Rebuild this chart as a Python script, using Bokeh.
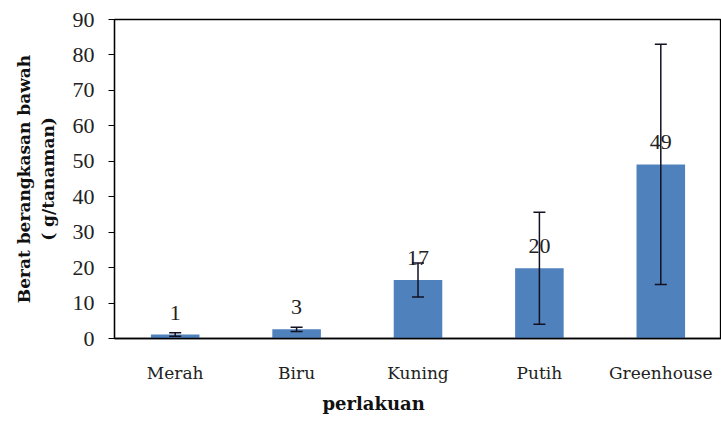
from bokeh.plotting import figure
from bokeh.models import ColumnDataSource, FactorRange, Whisker, TeeHead, FixedTicker, Title
from bokeh.embed import file_html
from bokeh.resources import INLINE
from bokeh.core.properties import value

categories = ["Merah", "Biru", "Kuning", "Putih", "Greenhouse"]
means = [1.1, 2.6, 16.5, 19.8, 49.1]
errors = [0.5, 0.6, 4.8, 15.8, 33.9]
value_labels = ["1", "3", "17", "20", "49"]
y_ticks = [0, 10, 20, 30, 40, 50, 60, 70, 80, 90]

src = ColumnDataSource(dict(
    cat=categories,
    val=means,
    upper=[m + e for m, e in zip(means, errors)],
    lower=[m - e for m, e in zip(means, errors)],
    lab=value_labels,
))

p = figure(width=721, height=421, x_range=FactorRange(*categories), y_range=(0, 90),
           output_backend="svg", toolbar_location=None,
           min_border_left=114, min_border_right=0, min_border_top=19, min_border_bottom=83)
p.background_fill_color = "white"
p.border_fill_color = "white"
p.outline_line_color = "black"
p.outline_line_width = 1.3
p.xgrid.visible = False
p.ygrid.visible = False

p.vbar(x="cat", top="val", width=0.4, source=src, fill_color="#4F81BD", line_color=None)

w = Whisker(base="cat", upper="upper", lower="lower", source=src, line_color="#111122", line_width=1.5,
            upper_head=TeeHead(size=12, line_color="#111122", line_width=1.5),
            lower_head=TeeHead(size=12, line_color="#111122", line_width=1.5),
            level="overlay")
p.add_layout(w)

p.text(x="cat", y="val", text="lab", source=src, text_align="center", text_baseline="alphabetic",
       y_offset=-22, text_font=value("Liberation Serif"), text_font_size="22px", text_color="#222222")

# axes
p.yaxis.ticker = FixedTicker(ticks=y_ticks)
p.yaxis.major_label_text_font = "Liberation Serif"
p.yaxis.major_label_text_font_size = "22px"
p.yaxis.major_label_text_color = "#222222"
p.yaxis.major_tick_out = 6
p.yaxis.major_tick_in = 0
p.yaxis.minor_tick_out = 0
p.yaxis.minor_tick_in = 0
p.yaxis.major_label_standoff = 14
p.yaxis.axis_line_width = 1.3
p.yaxis.axis_line_color = "black"
p.yaxis.axis_label = "Berat berangkasan bawah\n( g/tanaman)"
p.yaxis.axis_label_text_font = "DejaVu Serif"
p.yaxis.axis_label_text_font_style = "bold"
p.yaxis.axis_label_text_font_size = "17px"
p.yaxis.axis_label_text_color = "#111111"
p.yaxis.axis_label_standoff = 12

p.xaxis.major_label_text_font = "DejaVu Serif"
p.xaxis.major_label_text_font_size = "17px"
p.xaxis.major_label_text_color = "#222222"
p.xaxis.major_tick_out = 0
p.xaxis.major_tick_in = 0
p.xaxis.major_label_standoff = 24
p.xaxis.axis_line_width = 1.3
p.xaxis.axis_line_color = "black"

xt = Title(text="perlakuan", align="left", offset=208, standoff=10,
           text_font="DejaVu Serif", text_font_style="bold", text_font_size="18px", text_color="#111111")
p.add_layout(xt, "below")

open("out.html", "w").write(file_html(p, INLINE))
